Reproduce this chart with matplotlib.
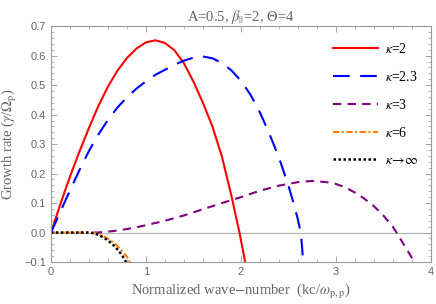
import matplotlib
matplotlib.use('Agg')
import matplotlib.pyplot as plt
from matplotlib.ticker import MultipleLocator

# values
x_k2 = [0, 0.1, 0.2, 0.3, 0.4, 0.5, 0.6, 0.7, 0.8, 0.9, 1.0, 1.1, 1.2, 1.3, 1.4,
        1.5, 1.6, 1.7, 1.8, 1.9, 1.985, 2.045]
g_k2 = [0, 0.098, 0.19, 0.275, 0.355, 0.43, 0.495, 0.549, 0.592, 0.624, 0.645, 0.652,
        0.643, 0.618, 0.574, 0.512, 0.44, 0.36, 0.258, 0.125, 0.0, -0.1]

x_k23 = [0, 0.1, 0.2, 0.3, 0.4, 0.5, 0.6, 0.7, 0.8, 0.9, 1.0, 1.1, 1.2, 1.3, 1.4,
         1.5, 1.6, 1.7, 1.8, 1.9, 2.0, 2.1, 2.2, 2.3, 2.4, 2.5, 2.55, 2.6, 2.63,
         2.645, 2.655]
g_k23 = [0, 0.072, 0.143, 0.212, 0.277, 0.333, 0.382, 0.424, 0.459, 0.488, 0.513,
         0.535, 0.552, 0.569, 0.583, 0.593, 0.597, 0.591, 0.575, 0.55, 0.515, 0.468,
         0.408, 0.335, 0.255, 0.16, 0.105, 0.045, 0.0, -0.05, -0.1]

x_k3 = [0.45, 0.5, 0.6, 0.7, 0.8, 0.9, 1.0, 1.2, 1.4, 1.6, 1.8, 2.0, 2.2, 2.4, 2.6,
        2.75, 2.9, 3.0, 3.1, 3.2, 3.3, 3.4, 3.5, 3.6, 3.64, 3.7, 3.8, 3.83]
g_k3 = [0, 0.0005, 0.003, 0.007, 0.012, 0.018, 0.025, 0.04, 0.058, 0.079, 0.1, 0.12,
        0.142, 0.159, 0.171, 0.175, 0.171, 0.165, 0.153, 0.136, 0.115, 0.09, 0.058,
        0.02, 0.0, -0.032, -0.085, -0.1]

x_k6 = [0, 0.3, 0.4, 0.45, 0.5, 0.55, 0.6, 0.65, 0.7, 0.75, 0.8, 0.83]
g_k6 = [0, 0, 0, -0.001, -0.005, -0.012, -0.021, -0.032, -0.046, -0.062, -0.082, -0.1]

x_kinf = [0, 0.3, 0.4, 0.45, 0.5, 0.55, 0.6, 0.65, 0.7, 0.75, 0.79]
g_kinf = [0, 0, 0, -0.002, -0.008, -0.016, -0.027, -0.04, -0.057, -0.077, -0.1]

labels = [r'$\kappa$=2', r'$\kappa$=2.3', r'$\kappa$=3', r'$\kappa$=6', r'$\kappa\!\rightarrow\!\infty$']

plt.rcParams['mathtext.fontset'] = 'stix'
serif = 'Liberation Serif'
gray = '#666666'

fig = plt.figure(figsize=(4.36, 3.04), dpi=100)
ax = fig.add_axes([0.117, 0.138, 0.871, 0.776])

lw = 1.5
ax.axhline(0, color='#b0b0b0', lw=0.8, zorder=1)
ax.plot(x_k2, g_k2, color='#ff0000', lw=lw, label=labels[0])
ax.plot(x_k23, g_k23, color='#0000ff', lw=lw, dashes=(8, 5), label=labels[1])
ax.plot(x_k3, g_k3, color='#800080', lw=lw, dashes=(4, 3), label=labels[2])
ax.plot(x_k6, g_k6, color='#ff8000', lw=lw, dashes=(3, 1.2, 1, 1.2), label=labels[3])
ax.plot(x_kinf, g_kinf, color='black', lw=lw + 0.3, dashes=(1, 1), label=labels[4])

ax.set_xlim(0, 4)
ax.set_ylim(-0.1, 0.7)
ax.xaxis.set_major_locator(MultipleLocator(1))
ax.xaxis.set_minor_locator(MultipleLocator(0.2))
ax.yaxis.set_major_locator(MultipleLocator(0.1))
ax.yaxis.set_minor_locator(MultipleLocator(0.02))
ax.yaxis.set_major_formatter(matplotlib.ticker.FuncFormatter(
    lambda v, p: ('%.1f' % v).replace('-', '\u2212')))
ax.tick_params(which='both', direction='in', top=True, right=True, colors='#999999',
               labelcolor=gray, labelsize=8)
ax.tick_params(which='major', length=4, width=0.6)
ax.tick_params(which='minor', length=2, width=0.5)
for s in ax.spines.values():
    s.set_color('#999999')
    s.set_linewidth(0.8)
for t in ax.get_xticklabels() + ax.get_yticklabels():
    t.set_family('Liberation Sans')

ax.set_title(r'A=0.5, $\beta_{||}$=2, $\Theta$=4', family=serif, fontsize=10.5,
             color=gray, pad=4)
ax.set_xlabel(r'Normalized wave$-$number  (kc/$\omega_{\mathrm{p,p}}$)', family=serif,
              fontsize=10.5, color=gray, labelpad=4)
ax.set_ylabel(r'Growth rate ($\gamma$/$\Omega_{\mathrm{p}}$)', family=serif,
              fontsize=10.5, color=gray, labelpad=4)

leg = ax.legend(loc='upper right', bbox_to_anchor=(1.0, 0.985), frameon=False,
                handlelength=3.2, handletextpad=0.5, labelspacing=1.0,
                prop={'family': serif, 'size': 10})

fig.savefig('out.png', dpi=100)
